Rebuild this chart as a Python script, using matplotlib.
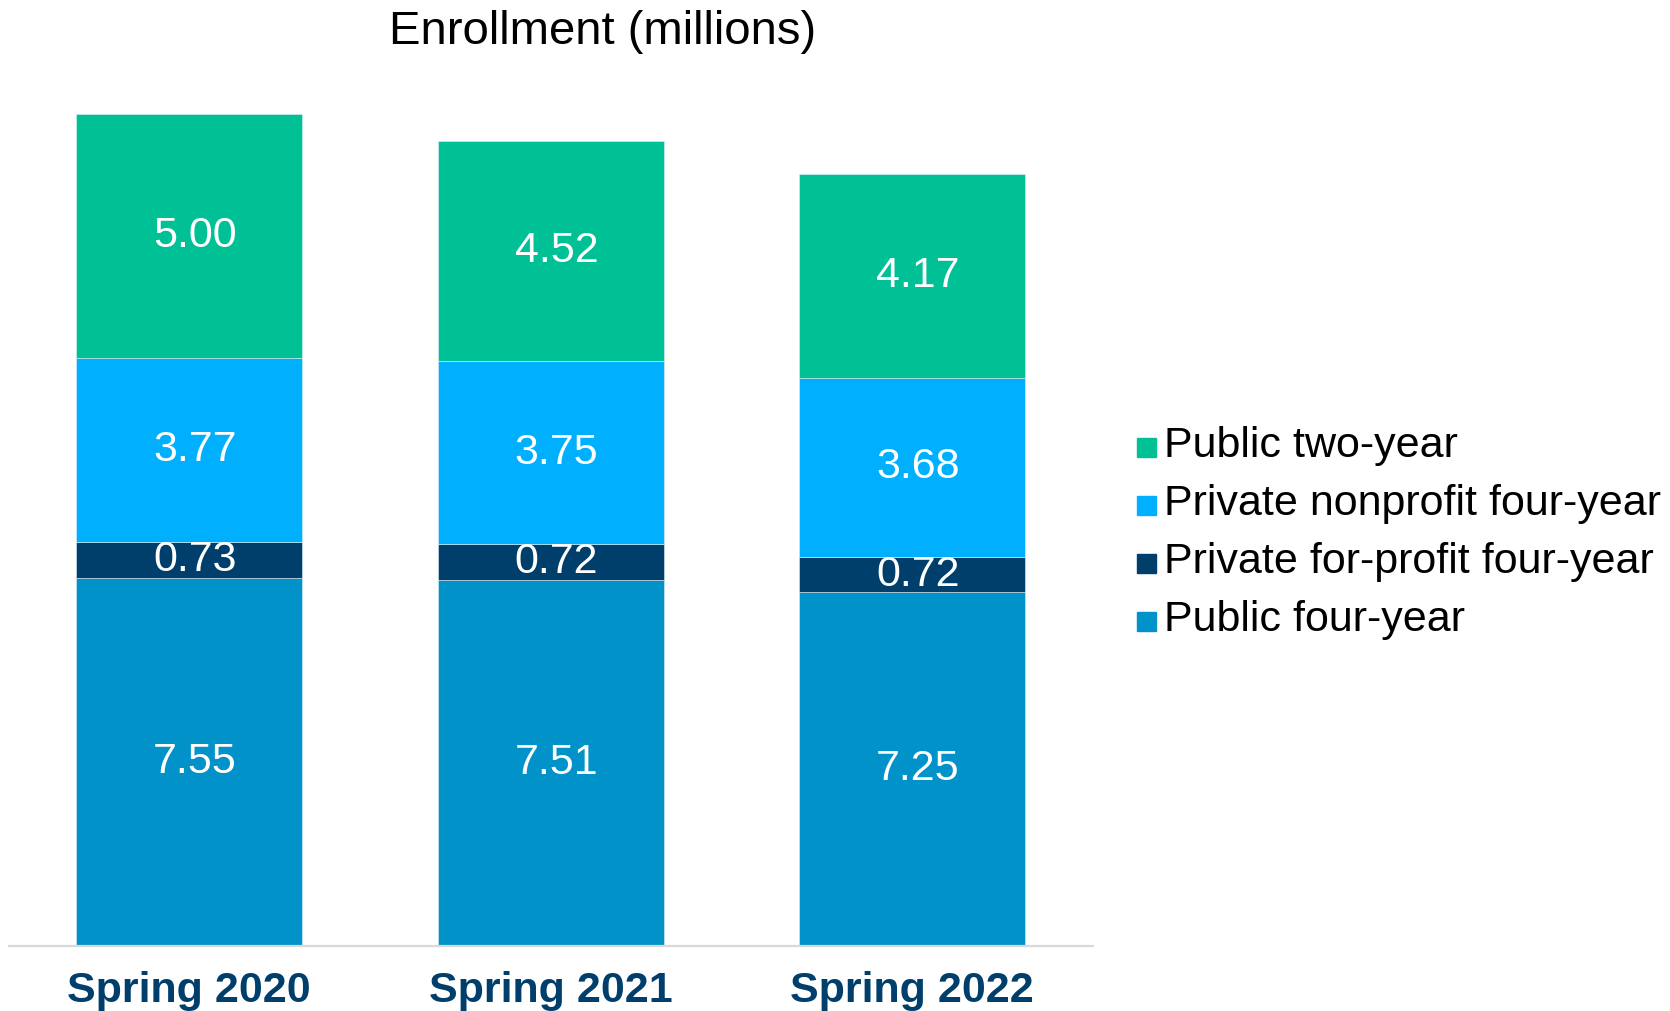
import matplotlib.pyplot as plt
import numpy as np
from matplotlib.patches import Rectangle

plt.rcParams['font.family'] = ['Liberation Sans', 'DejaVu Sans']

# Enrollment by sector, millions of students
terms = ['Spring 2020', 'Spring 2021', 'Spring 2022']
public_four = [7.55, 7.51, 7.25]
private_forprofit = [0.73, 0.72, 0.72]
private_nonprofit = [3.77, 3.75, 3.68]
public_two = [5.00, 4.52, 4.17]

# stacked bottom-to-top
series = [public_four, private_forprofit, private_nonprofit, public_two]
names = ['Public four-year', 'Private for-profit four-year',
         'Private nonprofit four-year', 'Public two-year']
colors = ['#0092C8', '#003F6B', '#00B0FF', '#00C096']

W, H = 1670, 1011
fig = plt.figure(figsize=(W / 100, H / 100), dpi=100)
ax = fig.add_axes([0.0051, 0.0643, 0.6494, 0.8688])

x = np.arange(len(terms))
width = 0.625
bottom = np.zeros(len(terms))
for vals, col in zip(series, colors):
    vals = np.array(vals)
    ax.bar(x, vals, width, bottom=bottom, color=col,
           edgecolor='#DDEFF5', linewidth=0.4)
    for xi, b, v in zip(x, bottom, vals):
        ax.annotate(f'{v:.2f}', xy=(xi, b + v / 2), xytext=(4, 0),
                    textcoords='offset points', ha='center', va='center',
                    color='white', fontsize=31)
    bottom += vals

ax.set_xlim(-0.5, 2.5)
ax.set_ylim(0, 18)
ax.set_yticks([])
ax.set_xticks(x)
ax.set_xticklabels(terms, fontsize=31, fontweight='bold', color='#003F6B')
ax.tick_params(axis='x', length=0, pad=18)
for s in ['top', 'right', 'left']:
    ax.spines[s].set_visible(False)
ax.spines['bottom'].set_color('#D9D9D9')
ax.spines['bottom'].set_linewidth(1.6)

fig.text(603 / W, 1 - 32 / H, 'Enrollment (millions)', ha='center',
         va='center', fontsize=34, color='black')

# legend, top entry first
baselines = [457, 515, 573, 631]
for yb, name, col in zip(baselines, names[::-1], colors[::-1]):
    fig.add_artist(Rectangle((1137 / W, 1 - yb / H), 19 / W, 19 / H,
                             transform=fig.transFigure, color=col))
    fig.text(1164 / W, 1 - yb / H, name, ha='left', va='baseline',
             fontsize=31, color='black')

plt.savefig('out.png', dpi=100)
